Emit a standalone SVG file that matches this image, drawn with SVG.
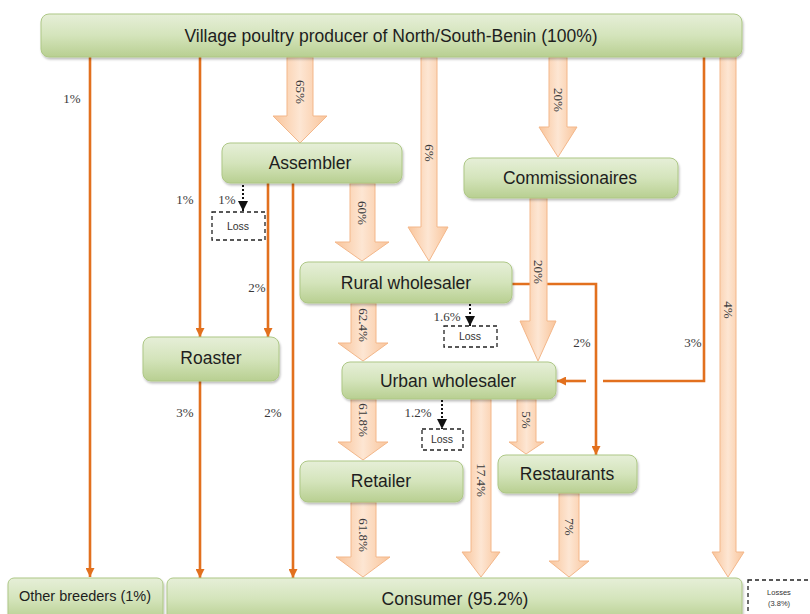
<svg xmlns="http://www.w3.org/2000/svg" width="810" height="614" viewBox="0 0 810 614">
<style>
.node{fill:url(#g);stroke:#adc785;stroke-width:1;filter:url(#sh)}
.nt{font-family:"Liberation Sans",Arial,sans-serif;font-size:17.5px;fill:#1e1e1e;text-anchor:middle}
.pct{font-family:"Liberation Serif","Times New Roman",serif;font-size:13px;fill:#3a3a3a;text-anchor:middle}
.vp{font-family:"Liberation Serif","Times New Roman",serif;font-size:13px;fill:#3a3a3a;text-anchor:middle;dominant-baseline:central}
.or{fill:none;stroke:#e2701e;stroke-width:2.6}
.dot{fill:none;stroke:#111;stroke-width:2;stroke-dasharray:2 2}
.wa{fill:url(#pg);stroke:#f3b78a;stroke-width:1}
.loss{fill:#fff;stroke:#222;stroke-width:1.3;stroke-dasharray:4 3}
.lt{font-family:"Liberation Sans",Arial,sans-serif;font-size:10.5px;fill:#333;text-anchor:middle}
</style>
<defs>
<linearGradient id="g" x1="0" y1="0" x2="0" y2="1">
<stop offset="0" stop-color="#e6efd8"/>
<stop offset="0.5" stop-color="#d4e4bb"/>
<stop offset="1" stop-color="#b8cf91"/>
</linearGradient>
<linearGradient id="pg" x1="0" y1="0" x2="1" y2="0">
<stop offset="0" stop-color="#f9c49a"/>
<stop offset="0.5" stop-color="#fde6d3"/>
<stop offset="1" stop-color="#f9c49a"/>
</linearGradient>
<filter id="sh" x="-5%" y="-20%" width="110%" height="150%">
<feDropShadow dx="1" dy="2" stdDeviation="1.2" flood-color="#000" flood-opacity="0.25"/>
</filter>
<marker id="oa" viewBox="0 0 10 10" refX="10" refY="5" markerWidth="9" markerHeight="9" markerUnits="userSpaceOnUse" orient="auto">
<path d="M0,0 L10,5 L0,10 z" fill="#e2701e"/>
</marker>
<marker id="ba" viewBox="0 0 10 10" refX="10" refY="5" markerWidth="10" markerHeight="10" markerUnits="userSpaceOnUse" orient="auto">
<path d="M0,0 L10,5 L0,10 z" fill="#111"/>
</marker>
</defs>
<rect width="810" height="614" fill="#fff"/>

<g id="connectors">
<path class="or" d="M90,57 V577" marker-end="url(#oa)"/>
<path class="or" d="M200,57 V337" marker-end="url(#oa)"/>
<path class="or" d="M268,183 V337" marker-end="url(#oa)"/>
<path class="or" d="M293,183 V578" marker-end="url(#oa)"/>
<path class="or" d="M200,381 V578" marker-end="url(#oa)"/>
<path class="or" d="M704,57 V381 H603"/>
<path class="or" d="M586,381 H557" marker-end="url(#oa)"/>
<path class="or" d="M512,284 H596 V455" marker-end="url(#oa)"/>
<path class="dot" d="M243,185 V211" marker-end="url(#ba)"/>
<path class="dot" d="M470,304 V326" marker-end="url(#ba)"/>
<path class="dot" d="M442,400 V429" marker-end="url(#ba)"/>
<polygon class="wa" points="287,57 313,57 313,116 327,116 300,143 273,116 287,116"/>
<polygon class="wa" points="421,57 437,57 437,227 448,227 429,261 408,227 421,227"/>
<polygon class="wa" points="549,57 567,57 567,127 577,127 558,157 539,127 549,127"/>
<polygon class="wa" points="720,57 736,57 736,552 744,552 728,577 712,552 720,552"/>
<polygon class="wa" points="350,183 375,183 375,242 389,242 362,261 335,242 350,242"/>
<polygon class="wa" points="530,198 547,198 547,321 556,321 538,361 520,321 530,321"/>
<polygon class="wa" points="351,303 376,303 376,343 388,343 363,361 338,343 351,343"/>
<polygon class="wa" points="351,399 376,399 376,442 388,442 363,460 338,442 351,442"/>
<polygon class="wa" points="471,399 491,399 491,552 500,552 481,577 462,552 471,552"/>
<polygon class="wa" points="517,399 536,399 536,442 544,442 526,454 509,442 517,442"/>
<polygon class="wa" points="351,502 376,502 376,557 390,557 363,577 336,557 351,557"/>
<polygon class="wa" points="559,493 579,493 579,561 589,561 569,577 549,561 559,561"/>
<text class="pct" x="72" y="103">1%</text>
<text class="pct" x="185" y="204">1%</text>
<text class="pct" x="227" y="204">1%</text>
<text class="pct" x="257" y="292">2%</text>
<text class="pct" x="447" y="321">1.6%</text>
<text class="pct" x="582" y="347">2%</text>
<text class="pct" x="693" y="347">3%</text>
<text class="pct" x="185" y="417">3%</text>
<text class="pct" x="273" y="417">2%</text>
<text class="pct" x="418" y="417">1.2%</text>
<text class="vp" transform="translate(300,92) rotate(90)">65%</text>
<text class="vp" transform="translate(429,153) rotate(90)">6%</text>
<text class="vp" transform="translate(558,100) rotate(90)">20%</text>
<text class="vp" transform="translate(362,213) rotate(90)">60%</text>
<text class="vp" transform="translate(538,272) rotate(90)">20%</text>
<text class="vp" transform="translate(363,325) rotate(90)">62.4%</text>
<text class="vp" transform="translate(728,310) rotate(90)">4%</text>
<text class="vp" transform="translate(363,420) rotate(90)">61.8%</text>
<text class="vp" transform="translate(526,420) rotate(90)">5%</text>
<text class="vp" transform="translate(481,480) rotate(90)">17.4%</text>
<text class="vp" transform="translate(363,535) rotate(90)">61.8%</text>
<text class="vp" transform="translate(569,527) rotate(90)">7%</text>
</g>

<g id="producer"><rect class="node" x="41" y="14" width="701" height="43" rx="8"/><text class="nt" x="391" y="42">Village poultry producer of North/South-Benin (100%)</text></g>
<g id="assembler"><rect class="node" x="222" y="143" width="180" height="40" rx="8"/><text class="nt" x="310" y="169">Assembler</text></g>
<g id="commissionaires"><rect class="node" x="464" y="158" width="214" height="40" rx="8"/><text class="nt" x="570" y="184">Commissionaires</text></g>
<g id="rural"><rect class="node" x="300" y="262" width="212" height="41" rx="8"/><text class="nt" x="406" y="289">Rural wholesaler</text></g>
<g id="roaster"><rect class="node" x="143" y="337" width="136" height="44" rx="8"/><text class="nt" x="211" y="364">Roaster</text></g>
<g id="urban"><rect class="node" x="342" y="362" width="214" height="37" rx="8"/><text class="nt" x="448" y="387">Urban wholesaler</text></g>
<g id="retailer"><rect class="node" x="300" y="461" width="163" height="41" rx="8"/><text class="nt" x="381" y="487">Retailer</text></g>
<g id="restaurants"><rect class="node" x="498" y="455" width="139" height="38" rx="8"/><text class="nt" x="567" y="480">Restaurants</text></g>
<g id="breeders"><rect class="node" x="8" y="578" width="155" height="42" rx="6"/><text class="nt" x="85" y="601" style="font-size:14.5px">Other breeders (1%)</text></g>
<g id="consumer"><rect class="node" x="167" y="578" width="575" height="42" rx="6"/><text class="nt" x="455" y="605">Consumer (95.2%)</text></g>
<g id="loss1"><rect class="loss" x="212" y="212" width="53" height="28"/><text class="lt" x="238" y="230">Loss</text></g>
<g id="loss2"><rect class="loss" x="444" y="326" width="53" height="21"/><text class="lt" x="470" y="340">Loss</text></g>
<g id="loss3"><rect class="loss" x="422" y="429" width="41" height="21"/><text class="lt" x="442" y="443">Loss</text></g>
<g id="losses"><rect class="loss" x="748" y="580" width="70" height="40"/><text class="lt" x="779" y="595" style="font-size:7.5px">Losses</text><text class="lt" x="779" y="606" style="font-size:7.5px">(3.8%)</text></g>
</svg>
